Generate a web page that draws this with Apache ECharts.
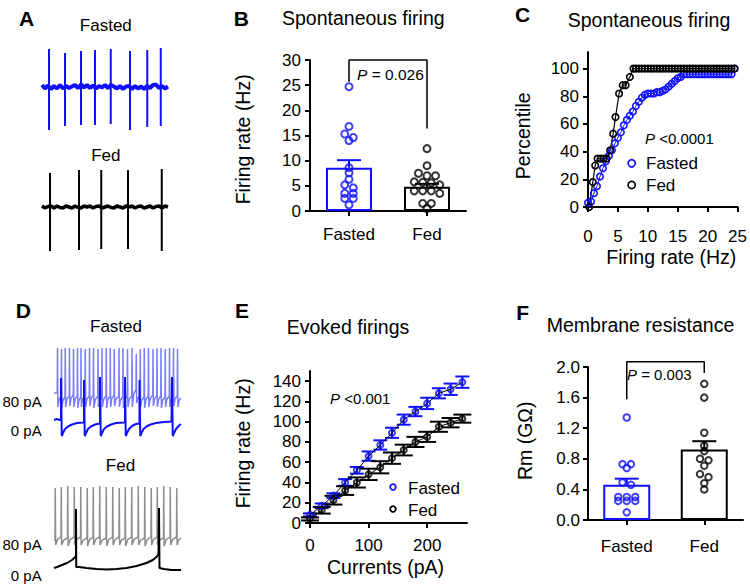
<!DOCTYPE html>
<html><head><meta charset="utf-8">
<script src="https://cdn.jsdelivr.net/npm/echarts@6/dist/echarts.min.js"></script>
<style>html,body{margin:0;padding:0;background:#fff}#c{width:750px;height:585px}</style>
</head><body><div id="c"></div>
<script>
// ================= DATA =================
const groups = ['Fasted', 'Fed'];

// Panel B - spontaneous firing rate (Hz)
const spontFasted = [24.7, 16.8, 15.3, 14.6, 14.0, 8.6, 7.6, 6.3, 5.2, 4.6, 3.5, 3.5, 2.5, 2.5, 1.2];
const spontFed = [12.4, 9.0, 7.5, 7.0, 7.0, 5.8, 5.7, 5.6, 5.2, 4.0, 4.0, 4.0, 3.5, 1.5, 1.5, 0.5];
const spontMean = [8.6, 4.8];
const spontSem = [1.5, 0.6];
const spontBracket = [[0, 25.7], [0, 30], [1, 30], [1, 16.4]];

// Panel C - cumulative distribution (percentile vs Hz)
const cumFastedX = [0,0.5,1,1.5,2,2.5,3,3.5,4,4.5,5,5.5,6,6.5,7,7.5,8,8.5,9,9.5,10,10.5,11,11.5,12,12.5,13,13.5,14,14.5,15,15.5,16,16.5,17,17.5,18,18.5,19,19.5,20,20.5,21,21.5,22,22.5,23,23.5,24,24.5];
const cumFastedY = [3,4,10,15,22,28,33,37,41,46,50,54,59,63,66,69,73,76,79,81,82,82,82,83,83,84,85,87,89,91,93,94,96,96,96,96,96,96,96,96,96,96,96,96,96,96,96,96,96,100];
const cumFedX = [0.2,0.8,1.2,1.6,2.1,2.6,3.1,3.7,4.2,4.6,5.2,5.8,6.3,7.0,7.6,8,8.5,9,9.5,10,10.5,11,11.5,12,12.5,13,13.5,14,14.5,15,15.5,16,16.5,17,17.5,18,18.5,19,19.5,20,20.5,21,21.5,22,22.5,23,23.5,24,24.5];
const cumFedY = [0,18,30,35,35,35,35,41,53,65,82,88,88,94,100,100,100,100,100,100,100,100,100,100,100,100,100,100,100,100,100,100,100,100,100,100,100,100,100,100,100,100,100,100,100,100,100,100,100];

// Panel E - evoked firing (Hz) vs injected current (pA)
const currents = [0,20,40,60,80,100,120,140,160,180,200,220,240,260];
const evokedFasted = [8,17,27,40,52,66,77,89,102,110,118,128,132,139];
const evokedFastedSem = [1.5,2.3,2.3,3.3,3.3,4.6,4.6,5,5,4.6,5.6,5,5.6,5.6];
const evokedFed = [4,12.6,22.5,32,40,48,55,64,72,80,85,95,99,103];
const evokedFedSem = [1.5,3.3,4.3,4.3,5,5.6,6,5.6,5.3,5,5,5,4.6,4];

// Panel F - membrane resistance (GOhm)
const rmFasted = [1.34,0.73,0.73,0.68,0.49,0.46,0.30,0.30,0.30,0.25,0.25,0.25,0.10];
const rmFed = [1.78,1.60,1.14,0.97,0.90,0.80,0.78,0.71,0.60,0.56,0.48,0.40];
const rmMean = [0.46, 0.92];
const rmSem = [0.08, 0.11];
const rmBracket = [[0, 1.58], [0, 2.07], [1, 2.07], [1, 1.92]];

// Panel A - spontaneous traces (time ms, amplitude rel. baseline)
const aSampleStep = 24;
const aFastedBase = [2,-1.5,1.5,-2,1,-1.5,2,-1.5,1,-1,0.5,2,-1,2.5,-0.5,2,-1,1.5,-1.5,1,-0.5,2,-1,2,0.5,-1.5,1,-2,0.5,1,-2,1,-1.5,0.5,-2,1,-1,2,2.5,-1,1,-1.5,0.5];
const aFastedSpikeT = [56,184,312,424,550,704,842,950];
const aFastedSpikePeak = [38,34,36,37,38,36,37,39];
const aFastedSpikeTrough = [-43,-39,-38,-38,-37,-43,-40,-39];
const aFedBase = [1,-1,0.5,1,-1,1,-0.5,-1,1,0,-1,1,-0.5,-1,1,0,1,-1,0.5,1,-1,0,1,-0.5,-1,1,0,-1,1,0,1,-1,0.5,1,-1,0,1,-1,0.5,1,-1,1,0];
const aFedSpikeT = [64,296,474,688,958];
const aFedSpikePeak = [34,37,37,37,38];
const aFedSpikeTrough = [-44,-43,-42,-42,-44];

// Panel D - current-clamp traces (time ms, mV)
const dFasted0pA = [[0,-58],[24,-57],[48,-58],[56,-58],[56,-16],[62,-74],[72,-71],[88,-67],[112,-64.5],[144,-62.5],[184,-61],[236,-60.5],[240,-60],[240,-18],[246,-74],[256,-71],[272,-67],[296,-64.5],[328,-62.5],[364,-61.5],[368,-61],[368,-15],[374,-74],[384,-71],[400,-67],[424,-64.5],[456,-62.5],[496,-61],[564,-60.5],[568,-60],[568,-15],[574,-74],[584,-71],[600,-67],[624,-64],[656,-62],[680,-61.5],[684,-61],[684,-18],[690,-74],[700,-71],[716,-67],[740,-64.5],[772,-62.5],[816,-61],[880,-60],[940,-59.5],[944,-59.5],[944,-15],[950,-74],[960,-71],[976,-67],[996,-64],[1016,-62]];
const d80FastedStart = [0,-31];
const d80FastedEnd = [1016,-36];
const d80FastedT = [26,58,88,122,154,186,214,248,282,314,350,382,416,448,480,518,550,586,622,656,688,720,754,790,822,854,888,922,954,986];
const d80FastedThr = [-31,-34,-35,-34,-33,-34,-35,-34,-34,-33,-34,-35,-34,-34,-33,-34,-35,-34,-34,-27,-34,-35,-34,-33,-34,-34,-35,-34,-33,-34];
const d80FastedPeak = [14,13,14,14,13,14,14,13,14,14,13,14,14,14,13,14,14,13,14,8,13,14,14,13,14,14,13,14,14,13];
const d80FastedTrough = [-45,-46,-45,-44,-45,-46,-45,-45,-44,-46,-45,-45,-46,-45,-44,-45,-46,-45,-45,-41,-45,-46,-45,-44,-45,-46,-45,-45,-44,-45];
const dFed0pA = [[0,-61],[24,-60],[64,-58],[104,-56],[144,-53],[170,-50],[176,-48],[176,-2],[178,-60],[200,-60],[260,-61],[340,-62],[420,-62.5],[500,-62],[580,-61],[660,-59],[740,-56],[790,-53],[820,-50],[836,-47],[840,-47],[840,-1],[844,-61],[880,-62],[940,-63],[1016,-63]];
const d80FedStart = [0,-33];
const d80FedEnd = [1016,-31];
const d80FedT = [8,56,108,160,212,264,312,364,416,468,520,568,620,672,724,776,824,876,928,980];
const d80FedThr = [-33,-30,-31,-30,-30,-31,-30,-30,-31,-30,-30,-31,-30,-30,-31,-30,-30,-31,-30,-30];
const d80FedPeak = [19,20,21,20,20,19,20,21,20,20,19,20,20,21,20,19,20,21,20,19];
const d80FedTrough = [-38,-38,-39,-38,-38,-39,-38,-38,-39,-38,-38,-39,-38,-38,-39,-38,-38,-39,-38,-38];

// ================= STYLE / LAYOUT =================
const FONT = "'Liberation Sans', Arial, sans-serif";
const BLUE = '#1010ff';
const LIGHTBLUE = '#7b7dff';
const GRAY = '#8e8e8e';
const G = {
  B: {left:310, top:60, width:156, height:151},
  C: {left:588, top:52, width:151, height:155},
  E: {left:310, top:371, width:157, height:152},
  F: {left:588, top:367, width:155, height:153},
  A1: {left:42, top:45, width:126, height:87},
  A2: {left:42, top:168, width:126, height:86},
  D1: {left:54, top:340, width:127, height:100},
  D2: {left:54, top:480, width:127, height:95}
};

// ================= HELPERS =================
function swarm(values, center, pxPerY, pxPerX, stepPx, rowPx) {
  const idx = values.map((v, i) => i).sort((a, b) => values[b] - values[a]);
  const rows = [];
  idx.forEach(i => {
    const r = rows[rows.length - 1];
    if (r && (values[r[0]] - values[i]) * pxPerY < rowPx) r.push(i); else rows.push([i]);
  });
  const out = [];
  rows.forEach(r => r.forEach((i, k) => {
    const dx = (k - (r.length - 1) / 2) * stepPx;
    out.push([center + dx / pxPerX, values[i]]);
  }));
  return out;
}
function errRenderer(colors, capPx, both) {
  return function (params, api) {
    const x = api.value(0), m = api.value(1), s = api.value(2);
    const color = colors[params.dataIndex % colors.length];
    const top = api.coord([x, m + s]), mid = api.coord([x, m]), bot = api.coord([x, m - s]);
    const st = {stroke: color, lineWidth: 2, fill: null};
    const ch = [
      {type: 'line', shape: {x1: top[0], y1: top[1], x2: top[0], y2: (both ? bot : mid)[1]}, style: st},
      {type: 'line', shape: {x1: top[0] - capPx / 2, y1: top[1], x2: top[0] + capPx / 2, y2: top[1]}, style: st}
    ];
    if (both) ch.push({type: 'line', shape: {x1: bot[0] - capPx / 2, y1: bot[1], x2: bot[0] + capPx / 2, y2: bot[1]}, style: st});
    return {type: 'group', children: ch};
  };
}
function baselineTrace(base, step) { return base.map((v, i) => [i * step, v]); }
function spikeSegments(times, peaks, troughs) {
  const out = [];
  times.forEach((t, i) => { out.push([t, 0], [t, peaks[i]], [t, troughs[i]], [t, 0], [t, null]); });
  return out;
}
function burstTrace(start, times, thr, peaks, troughs, end) {
  const out = [start];
  times.forEach((t, i) => {
    out.push([t, thr[i]], [t + 2, peaks[i]], [t + 5, troughs[i]]);
    const next = i + 1 < times.length ? [times[i + 1], thr[i + 1]] : end;
    const tm = t + 5 + (next[0] - t - 5) * 0.35;
    out.push([tm, next[1] - (next[1] - troughs[i]) * 0.3]);
  });
  out.push(end);
  return out;
}
const hollow = (c, w) => ({color: 'rgba(255,255,255,0)', borderColor: c, borderWidth: w});
function axisBase(extra) {
  const base = {
    axisLine: {show: true, onZero: false, lineStyle: {color: '#000', width: 2}},
    axisTick: {show: true, length: 5, lineStyle: {color: '#000', width: 2}},
    axisLabel: {color: '#000', fontSize: 17, fontFamily: FONT},
    splitLine: {show: false}
  };
  const o = Object.assign({}, base, extra);
  ['axisLine', 'axisTick', 'axisLabel'].forEach(k => { if (extra[k]) o[k] = Object.assign({}, base[k], extra[k]); });
  return o;
}
const hidden = (gi, min, max) => ({type: 'value', gridIndex: gi, show: false, min, max});

// ================= OPTION =================
const grids = [G.B, G.C, G.E, G.F, G.A1, G.A2, G.D1, G.D2];
const xAxes = [
  axisBase({type: 'category', gridIndex: 0, data: groups, axisTick: {alignWithLabel: true}, axisLabel: {margin: 15}}),
  hidden(0, -0.5, 1.5),
  axisBase({type: 'value', gridIndex: 1, min: 0, max: 25, interval: 5, axisLabel: {margin: 21}}),
  axisBase({type: 'value', gridIndex: 2, min: 0, max: 268, axisTick: {customValues: [0, 100, 200]}, axisLabel: {margin: 14, customValues: [0, 100, 200]}}),
  axisBase({type: 'category', gridIndex: 3, data: groups, axisTick: {alignWithLabel: true}, axisLabel: {margin: 18}}),
  hidden(3, -0.5, 1.5),
  hidden(4, 0, 1008), hidden(5, 0, 1008), hidden(6, 0, 1016), hidden(7, 0, 1016)
];
const yAxes = [
  axisBase({type: 'value', gridIndex: 0, min: 0, max: 30, interval: 5, axisLabel: {margin: 9}}),
  axisBase({type: 'value', gridIndex: 1, min: 0, max: 112, axisTick: {customValues: [0, 20, 40, 60, 80, 100]}, axisLabel: {margin: 9, customValues: [0, 20, 40, 60, 80, 100]}}),
  axisBase({type: 'value', gridIndex: 2, min: 0, max: 150, axisTick: {customValues: [0, 20, 40, 60, 80, 100, 120, 140]}, axisLabel: {margin: 9, customValues: [0, 20, 40, 60, 80, 100, 120, 140]}}),
  axisBase({type: 'value', gridIndex: 3, min: 0, max: 2, interval: 0.4, axisLabel: {margin: 8, formatter: v => v.toFixed(1)}}),
  hidden(4, -45, 42), hidden(5, -47, 39), hidden(6, -78, 22), hidden(7, -68, 27)
];

const pxB = [G.B.width / 2, G.B.height / 30];
const pxF = [G.F.width / 2, G.F.height / 2];
const series = [];
// ---- B ----
series.push({type: 'bar', xAxisIndex: 0, yAxisIndex: 0, barWidth: 46, silent: true,
  data: spontMean.map((v, i) => ({value: v, itemStyle: {borderColor: i ? '#000' : BLUE}})),
  itemStyle: {color: 'rgba(255,255,255,0)', borderWidth: 2}});
series.push({type: 'custom', xAxisIndex: 0, yAxisIndex: 0, renderItem: errRenderer([BLUE, '#000'], 24, false),
  data: spontMean.map((m, i) => [i, m, spontSem[i]])});
series.push({type: 'scatter', xAxisIndex: 1, yAxisIndex: 0, symbol: 'circle', symbolSize: 7, itemStyle: hollow(BLUE, 2),
  data: swarm(spontFasted, 0, pxB[1], pxB[0], 8.5, 3.6)});
series.push({type: 'scatter', xAxisIndex: 1, yAxisIndex: 0, symbol: 'circle', symbolSize: 7, itemStyle: hollow('#000', 2),
  data: swarm(spontFed, 1, pxB[1], pxB[0], 8.5, 3.6)});
series.push({type: 'line', xAxisIndex: 1, yAxisIndex: 0, data: spontBracket, symbol: 'none', clip: false,
  lineStyle: {color: '#000', width: 1.5}});
// ---- C ----
series.push({type: 'line', xAxisIndex: 2, yAxisIndex: 1, symbol: 'circle', symbolSize: 6.5, showAllSymbol: true, clip: false,
  data: cumFastedX.map((x, i) => [x, cumFastedY[i]]), lineStyle: {color: BLUE, width: 1}, itemStyle: hollow(BLUE, 1.6)});
series.push({type: 'line', xAxisIndex: 2, yAxisIndex: 1, symbol: 'circle', symbolSize: 6.5, showAllSymbol: true, clip: false,
  data: cumFedX.map((x, i) => [x, cumFedY[i]]), lineStyle: {color: '#000', width: 1.2}, itemStyle: hollow('#000', 1.6)});
// ---- E ----
series.push({type: 'line', xAxisIndex: 3, yAxisIndex: 2, symbol: 'none', data: currents.map((c, i) => [c, evokedFasted[i]]), lineStyle: {color: '#000', width: 1}});
series.push({type: 'line', xAxisIndex: 3, yAxisIndex: 2, symbol: 'none', data: currents.map((c, i) => [c, evokedFed[i]]), lineStyle: {color: '#000', width: 1}});
series.push({type: 'custom', xAxisIndex: 3, yAxisIndex: 2, renderItem: errRenderer([BLUE], 14, true),
  data: currents.map((c, i) => [c, evokedFasted[i], evokedFastedSem[i]])});
series.push({type: 'custom', xAxisIndex: 3, yAxisIndex: 2, renderItem: errRenderer(['#000'], 18, true),
  data: currents.map((c, i) => [c, evokedFed[i], evokedFedSem[i]])});
series.push({type: 'scatter', xAxisIndex: 3, yAxisIndex: 2, symbol: 'circle', symbolSize: 6, clip: false, itemStyle: hollow(BLUE, 2),
  data: currents.map((c, i) => [c, evokedFasted[i]])});
series.push({type: 'scatter', xAxisIndex: 3, yAxisIndex: 2, symbol: 'circle', symbolSize: 6, clip: false, itemStyle: hollow('#000', 2),
  data: currents.map((c, i) => [c, evokedFed[i]])});
// ---- F ----
series.push({type: 'bar', xAxisIndex: 4, yAxisIndex: 3, barWidth: 47, silent: true,
  data: rmMean.map((v, i) => ({value: v, itemStyle: {borderColor: i ? '#000' : BLUE}})),
  itemStyle: {color: 'rgba(255,255,255,0)', borderWidth: 2}});
series.push({type: 'custom', xAxisIndex: 4, yAxisIndex: 3, renderItem: errRenderer([BLUE, '#000'], 24, false),
  data: rmMean.map((m, i) => [i, m, rmSem[i]])});
series.push({type: 'scatter', xAxisIndex: 5, yAxisIndex: 3, symbol: 'circle', symbolSize: 6.5, itemStyle: hollow(BLUE, 2),
  data: swarm(rmFasted, 0, pxF[1], pxF[0], 8.5, 3.6)});
series.push({type: 'scatter', xAxisIndex: 5, yAxisIndex: 3, symbol: 'circle', symbolSize: 6.5, itemStyle: hollow('#000', 2),
  data: swarm(rmFed, 1, pxF[1], pxF[0], 8.5, 3.6)});
series.push({type: 'line', xAxisIndex: 5, yAxisIndex: 3, data: rmBracket, symbol: 'none', clip: false,
  lineStyle: {color: '#000', width: 1.5}});
// ---- A traces ----
series.push({type: 'line', xAxisIndex: 6, yAxisIndex: 4, symbol: 'none', clip: false, data: baselineTrace(aFastedBase, aSampleStep), lineStyle: {color: BLUE, width: 4}});
series.push({type: 'line', xAxisIndex: 6, yAxisIndex: 4, symbol: 'none', clip: false, data: spikeSegments(aFastedSpikeT, aFastedSpikePeak, aFastedSpikeTrough), lineStyle: {color: BLUE, width: 2}});
series.push({type: 'line', xAxisIndex: 7, yAxisIndex: 5, symbol: 'none', clip: false, data: baselineTrace(aFedBase, aSampleStep), lineStyle: {color: '#000', width: 3.5}});
series.push({type: 'line', xAxisIndex: 7, yAxisIndex: 5, symbol: 'none', clip: false, data: spikeSegments(aFedSpikeT, aFedSpikePeak, aFedSpikeTrough), lineStyle: {color: '#000', width: 2}});
// ---- D traces ----
series.push({type: 'line', xAxisIndex: 8, yAxisIndex: 6, symbol: 'none', clip: false,
  data: burstTrace(d80FastedStart, d80FastedT, d80FastedThr, d80FastedPeak, d80FastedTrough, d80FastedEnd), lineStyle: {color: LIGHTBLUE, width: 1.5}});
series.push({type: 'line', xAxisIndex: 8, yAxisIndex: 6, symbol: 'none', clip: false, data: dFasted0pA, lineStyle: {color: BLUE, width: 2}});
series.push({type: 'line', xAxisIndex: 9, yAxisIndex: 7, symbol: 'none', clip: false,
  data: burstTrace(d80FedStart, d80FedT, d80FedThr, d80FedPeak, d80FedTrough, d80FedEnd), lineStyle: {color: GRAY, width: 1.5}});
series.push({type: 'line', xAxisIndex: 9, yAxisIndex: 7, symbol: 'none', clip: false, data: dFed0pA, lineStyle: {color: '#000', width: 2}});

// ================= TEXT =================
function txt(x, y, text, size, o) {
  o = o || {};
  return {type: 'text', x: x, y: y, rotation: o.rot || 0, silent: true, z: 100,
    style: {text: text, fill: '#000', fontSize: size, fontFamily: FONT, fontWeight: o.weight || 'normal',
      align: o.align || 'center', verticalAlign: 'middle', rich: o.rich}};
}
const italicP = s => ({i: {fontStyle: 'italic', fontSize: s, fontFamily: FONT, fill: '#000'}, n: {fontSize: s, fontFamily: FONT, fill: '#000'}});
const graphics = [
  txt(26.7, 18.5, 'A', 21, {weight: 'bold'}), txt(241.3, 18.7, 'B', 21, {weight: 'bold'}), txt(522.5, 14, 'C', 21, {weight: 'bold'}),
  txt(23.3, 310.8, 'D', 21, {weight: 'bold'}), txt(242, 310.5, 'E', 21, {weight: 'bold'}), txt(522.7, 312.5, 'F', 21, {weight: 'bold'}),
  txt(105.8, 25, 'Fasted', 17), txt(105.8, 155, 'Fed', 17),
  txt(116, 326.7, 'Fasted', 17), txt(120.5, 465, 'Fed', 17),
  txt(41.7, 401.7, '80 pA', 15, {align: 'right'}), txt(41.7, 430, '0 pA', 15, {align: 'right'}),
  txt(41.7, 544, '80 pA', 15, {align: 'right'}), txt(41.7, 575, '0 pA', 15, {align: 'right'}),
  txt(363.3, 18.3, 'Spontaneous firing', 19.5), txt(649, 20, 'Spontaneous firing', 19.5),
  txt(348, 326.7, 'Evoked firings', 19.5), txt(640.5, 325, 'Membrane resistance', 19.5),
  txt(243.3, 139.3, 'Firing rate (Hz)', 19.5, {rot: Math.PI / 2}),
  txt(523.3, 135.8, 'Percentile', 19.5, {rot: Math.PI / 2}),
  txt(671.3, 256.7, 'Firing rate (Hz)', 19.5),
  txt(243.3, 443.3, 'Firing rate (Hz)', 19.5, {rot: Math.PI / 2}),
  txt(385.5, 566.7, 'Currents (pA)', 19.5),
  txt(525, 440.8, 'Rm (G\u03a9)', 19.5, {rot: Math.PI / 2}),
  txt(357, 74, '{i|P}{n| = 0.026}', 15.5, {align: 'left', rich: italicP(15.5)}),
  txt(645, 138.3, '{i|P}{n| <0.0001}', 15, {align: 'left', rich: italicP(15)}),
  txt(330, 398.3, '{i|P}{n| <0.001}', 15, {align: 'left', rich: italicP(15)}),
  txt(627, 374, '{i|P}{n| = 0.003}', 15, {align: 'left', rich: italicP(15)}),
  // legends
  {type: 'circle', shape: {cx: 631.7, cy: 163.3, r: 3.6}, style: {fill: 'none', stroke: BLUE, lineWidth: 1.7}, silent: true},
  {type: 'circle', shape: {cx: 631.7, cy: 185, r: 3.6}, style: {fill: 'none', stroke: '#000', lineWidth: 1.7}, silent: true},
  txt(646, 163.3, 'Fasted', 17, {align: 'left'}), txt(646, 185, 'Fed', 17, {align: 'left'}),
  {type: 'circle', shape: {cx: 393, cy: 487, r: 2.8}, style: {fill: 'none', stroke: BLUE, lineWidth: 1.8}, silent: true},
  {type: 'circle', shape: {cx: 393, cy: 509, r: 2.8}, style: {fill: 'none', stroke: '#000', lineWidth: 1.8}, silent: true},
  txt(408, 488, 'Fasted', 17, {align: 'left'}), txt(408, 510, 'Fed', 17, {align: 'left'})
];

const chart = echarts.init(document.getElementById('c'), null, {renderer: 'svg', width: 750, height: 585});
chart.setOption({
  animation: false,
  backgroundColor: '#fff',
  grid: grids.map(g => Object.assign({containLabel: false}, g)),
  xAxis: xAxes,
  yAxis: yAxes,
  series: series,
  graphic: graphics
});
</script>
</body></html>
